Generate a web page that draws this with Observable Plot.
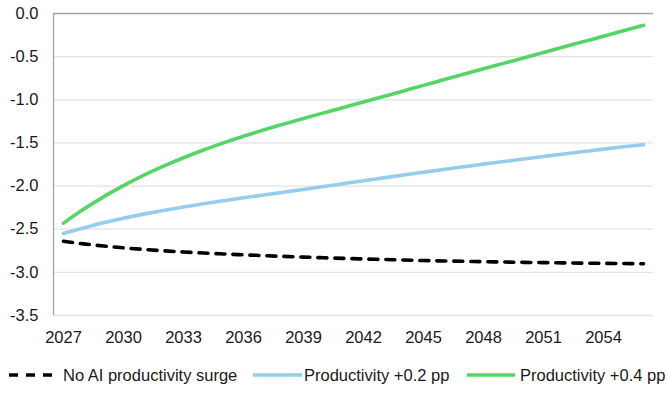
<!DOCTYPE html>
<html>
<head>
<meta charset="utf-8">
<script src="https://cdn.jsdelivr.net/npm/d3@7"></script>
<script src="https://cdn.jsdelivr.net/npm/@observablehq/plot@0.6"></script>
<style>
  html, body { margin: 0; padding: 0; background: #fff; }
  #wrap { width: 667px; font-family: "Liberation Sans", Arial, sans-serif; }
  #legend { position: relative; width: 667px; height: 43px; font-size: 16.5px; color: #1a1a1a; }
  .sample { position: absolute; top: 17px; display: block; }
  .label { position: absolute; top: 0; height: 43px; line-height: 43px; white-space: nowrap; }
</style>
</head>
<body>
<div id="wrap"></div>
<script>
const years = [2027,2028,2029,2030,2031,2032,2033,2034,2035,2036,2037,2038,2039,2040,2041,2042,2043,2044,2045,2046,2047,2048,2049,2050,2051,2052,2053,2054,2055,2056];
const xTicks = [2027,2030,2033,2036,2039,2042,2045,2048,2051,2054];
const yTicks = [0,-0.5,-1,-1.5,-2,-2.5,-3,-3.5];
const seriesNames = ["No AI productivity surge","Productivity +0.2 pp","Productivity +0.4 pp"];
const noAI = [-2.640,-2.670,-2.695,-2.716,-2.734,-2.750,-2.764,-2.776,-2.787,-2.797,-2.806,-2.815,-2.823,-2.831,-2.838,-2.845,-2.851,-2.857,-2.863,-2.868,-2.872,-2.876,-2.880,-2.884,-2.887,-2.890,-2.893,-2.896,-2.898,-2.900];
const prod02 = [-2.550,-2.485,-2.425,-2.372,-2.325,-2.282,-2.242,-2.205,-2.170,-2.136,-2.103,-2.071,-2.039,-2.006,-1.972,-1.938,-1.905,-1.872,-1.840,-1.808,-1.777,-1.746,-1.716,-1.686,-1.657,-1.628,-1.600,-1.572,-1.545,-1.520];
const prod04 = [-2.430,-2.270,-2.125,-1.995,-1.877,-1.770,-1.672,-1.582,-1.499,-1.422,-1.350,-1.282,-1.216,-1.152,-1.089,-1.025,-0.961,-0.897,-0.833,-0.769,-0.705,-0.641,-0.578,-0.515,-0.452,-0.389,-0.326,-0.263,-0.200,-0.137];

const colors = ["#000000", "#95cdee", "#55d566"];
const rows = (vals, name) => years.map((y, i) => ({year: y, value: vals[i], series: name}));
const dNo = rows(noAI, seriesNames[0]);
const d02 = rows(prod02, seriesNames[1]);
const d04 = rows(prod04, seriesNames[2]);

const chart = Plot.plot({
  width: 667,
  height: 354,
  marginLeft: 53,
  marginRight: 14,
  marginTop: 13,
  marginBottom: 39,
  style: {fontFamily: '"Liberation Sans", Arial, sans-serif', fontSize: "16.5px", color: "#1a1a1a", background: "#fff", overflow: "visible"},
  x: {domain: [2026.5, 2056.5], ticks: xTicks, tickFormat: d => String(d), tickSize: 0, tickPadding: 16, label: null},
  y: {domain: [-3.5, 0], ticks: yTicks, tickFormat: d => d.toFixed(1), tickSize: 0, tickPadding: 15, label: null},
  marks: [
    Plot.ruleY(yTicks.filter(d => d !== 0), {stroke: "#e3e3e3", strokeWidth: 1.3}),
    Plot.ruleY([0], {stroke: "#a3a3a3", strokeWidth: 1.3}),
    Plot.ruleX([2026.5], {stroke: "#a3a3a3", strokeWidth: 1.3}),
    Plot.line(dNo, {x: "year", y: "value", stroke: colors[0], strokeWidth: 3.6, strokeDasharray: "9,8", curve: "monotone-x"}),
    Plot.line(d02, {x: "year", y: "value", stroke: colors[1], strokeWidth: 3.6, strokeLinecap: "round", curve: "monotone-x"}),
    Plot.line(d04, {x: "year", y: "value", stroke: colors[2], strokeWidth: 3.6, strokeLinecap: "round", curve: "monotone-x"})
  ]
});
document.getElementById("wrap").appendChild(chart);

const legend = document.createElement("div");
legend.id = "legend";
const items = [
  {left: 9, w: 43, textLeft: 63, dash: "9,8", text: seriesNames[0], color: colors[0]},
  {left: 253, w: 49, textLeft: 304, dash: null, text: seriesNames[1], color: colors[1]},
  {left: 467, w: 48, textLeft: 520, dash: null, text: seriesNames[2], color: colors[2]}
];
items.forEach(it => {
  const s = document.createElementNS("http://www.w3.org/2000/svg", "svg");
  s.setAttribute("class", "sample");
  s.setAttribute("width", it.w);
  s.setAttribute("height", 8);
  s.style.left = it.left + "px";
  s.innerHTML = `<line x1="0" x2="${it.w}" y1="4" y2="4" stroke="${it.color}" stroke-width="3.6" ${it.dash ? `stroke-dasharray="${it.dash}"` : ""}/>`;
  legend.appendChild(s);
  const t = document.createElement("div");
  t.className = "label";
  t.style.left = it.textLeft + "px";
  t.textContent = it.text;
  legend.appendChild(t);
});
document.getElementById("wrap").appendChild(legend);
</script>
</body>
</html>
